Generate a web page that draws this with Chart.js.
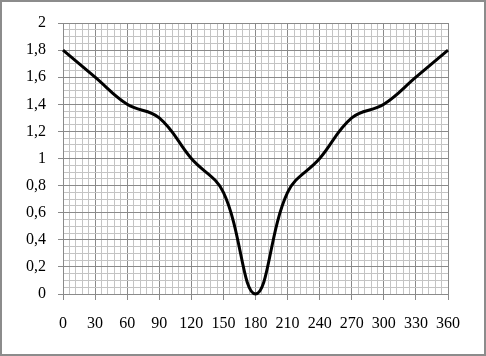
<!DOCTYPE html>
<html>
<head>
<meta charset="utf-8">
<script src="https://cdn.jsdelivr.net/npm/chart.js@4"></script>
<style>
  html, body { margin: 0; padding: 0; background: #fff; }
  #frame { position: relative; width: 482px; height: 352px; border: 2px solid #8c8c8c; overflow: hidden; }
  #chart-container { position: absolute; left: -2px; top: -2px; width: 486px; height: 356px; }
</style>
</head>
<body>
<div id="frame">
  <div id="chart-container"><canvas id="lineChart" width="486" height="356"></canvas></div>
</div>
<script>
// angulos (eje x) y valores de la curva
const angles = [0, 30, 60, 90, 120, 150, 180, 210, 240, 270, 300, 330, 360];
const values = [1.8, 1.6, 1.4, 1.3, 1.0, 0.75, 0, 0.75, 1.0, 1.3, 1.4, 1.6, 1.8];
const xTicks = [0, 30, 60, 90, 120, 150, 180, 210, 240, 270, 300, 330, 360];
const yTicks = [0, 0.2, 0.4, 0.6, 0.8, 1, 1.2, 1.4, 1.6, 1.8, 2];

const majorColor = "#8a8a8a";
const minorColor = "#c4c4c4";

function isMajorX(v) { return xTicks.includes(Math.round(v)); }
function isMajorY(v) { return yTicks.some(t => Math.abs(t - v) < 1e-6); }

const points = angles.map((a, i) => ({ x: a, y: values[i] }));

const config = {
    type: 'line',
    data: {
        datasets: [{
            data: points,
            borderColor: "#000",
            borderWidth: 3,
            pointRadius: 0,
            tension: 0.4,
            fill: false,
            clip: false
        }]
    },
    options: {
        responsive: false,
        animation: false,
        layout: { padding: { left: 0, right: 38, top: 23, bottom: 0 } },
        plugins: { legend: { display: false }, tooltip: { enabled: false } },
        scales: {
            x: {
                type: 'linear',
                min: 0, max: 360,
                afterFit: s => { s.height = 62; },
                ticks: {
                    stepSize: 6,
                    autoSkip: false,
                    maxRotation: 0,
                    padding: 14,
                    color: "#000",
                    font: { family: "Liberation Serif", size: 16 },
                    callback: v => isMajorX(v) ? String(Math.round(v)) : ""
                },
                grid: {
                    color: c => isMajorX(c.tick.value) ? majorColor : minorColor,
                    tickColor: c => isMajorX(c.tick.value) ? majorColor : "rgba(0,0,0,0)",
                    tickLength: 6,
                    lineWidth: 1
                },
                border: { color: majorColor }
            },
            y: {
                min: 0, max: 2,
                afterFit: s => { s.width = 63; },
                ticks: {
                    stepSize: 0.05,
                    autoSkip: false,
                    padding: 12,
                    color: "#000",
                    font: { family: "Liberation Serif", size: 16 },
                    callback: v => isMajorY(v) ? String(Math.round(v * 10) / 10).replace(".", ",") : ""
                },
                grid: {
                    color: c => isMajorY(c.tick.value) ? majorColor : minorColor,
                    tickColor: c => isMajorY(c.tick.value) ? majorColor : "rgba(0,0,0,0)",
                    tickLength: 5,
                    lineWidth: 1
                },
                border: { color: majorColor }
            }
        }
    }
};

const myChart = new Chart(document.getElementById('lineChart'), config);
</script>
</body>
</html>
